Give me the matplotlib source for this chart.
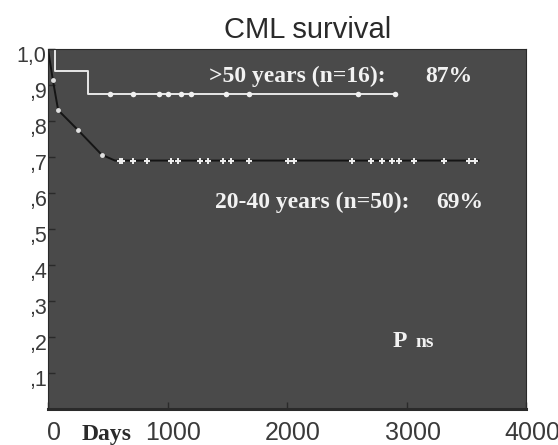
import matplotlib
matplotlib.use("Agg")
import matplotlib.pyplot as plt
import matplotlib.transforms as mtransforms
import numpy as np

# >50 years group (step curve)
old_t = [0, 60, 60, 335, 335, 2905]
old_s = [1.0, 1.0, 0.9375, 0.9375, 0.875, 0.875]
old_cens_t = [520, 715, 925, 1000, 1110, 1195, 1490, 1680, 2590, 2905]
old_cens_s = [0.875] * len(old_cens_t)

# 20-40 years group
young_t = [0, 40, 85, 250, 450, 560, 3600]
young_s = [1.0, 0.915, 0.83, 0.775, 0.706, 0.69, 0.69]
young_ev_t = [40, 85, 250, 450]
young_ev_s = [0.915, 0.83, 0.775, 0.706]
young_cens_t = [605, 622, 715, 830, 1025, 1085, 1275, 1335, 1460, 1530, 1680,
                2010, 2060, 2540, 2705, 2790, 2875, 2935, 3060, 3310, 3520, 3570]
young_cens_s = [0.69] * len(young_cens_t)

xticks = [0, 1000, 2000, 3000, 4000]
xticklabels = ["0", "1000", "2000", "3000", "4000"]
yticks = [0.1, 0.2, 0.3, 0.4, 0.5, 0.6, 0.7, 0.8, 0.9, 1.0]
yticklabels = [",1", ",2", ",3", ",4", ",5", ",6", ",7", ",8", ",9", "1,0"]

sans = ["Liberation Sans", "DejaVu Sans"]
serif = ["Liberation Serif", "DejaVu Serif"]

fig = plt.figure(figsize=(5.58, 4.45), dpi=100)
ax = fig.add_axes([0.086, 0.081, 0.857, 0.809])
ax.set_facecolor("#4a4a4a")

ax.plot(old_t, old_s, color="#e8e8e8", lw=1.4)
ax.plot(old_cens_t, old_cens_s, "o", color="#f0f0f0", ms=4, mec="none")

ax.plot(young_t, young_s, color="#151515", lw=1.4)
ax.plot(young_ev_t, young_ev_s, "o", color="#e0e0e0", ms=3.5, mec="none")
ax.plot(young_cens_t, young_cens_s, "+", color="#f0f0f0", ms=5, mew=1.4)

ax.set_xlim(0, 4000)
ax.set_ylim(0, 1.0)
ax.set_xticks(xticks)
ax.set_xticklabels(xticklabels, fontsize=18, color="#3a3a3a", family=sans)
ax.set_yticks(yticks)
ax.set_yticklabels(yticklabels, fontsize=15.5, color="#3a3a3a", family=sans)
ax.tick_params(axis="both", direction="in", length=5, color="#2a2a2a", width=1)
ax.tick_params(axis="x", pad=9)
ax.tick_params(axis="y", pad=1)
for s in ax.spines.values():
    s.set_color("#2a2a2a")
ax.spines["bottom"].set_linewidth(2.2)

dx = mtransforms.ScaledTranslation(6 / 100, 0, fig.dpi_scale_trans)
for lab in ax.get_xticklabels():
    lab.set_transform(lab.get_transform() + dx)
dy = mtransforms.ScaledTranslation(0, -5 / 100, fig.dpi_scale_trans)
for lab in ax.get_yticklabels():
    lab.set_transform(lab.get_transform() + dy)

tc = "#f2f2f2"
ax.text(1350, 0.908, ">50 years (n=16):", family=serif, fontweight="bold",
        color=tc, fontsize=17, va="baseline")
ax.text(3155, 0.908, "87%", family=serif, fontweight="bold",
        color=tc, fontsize=17, va="baseline")
ax.text(1400, 0.558, "20-40 years (n=50):", family=serif, fontweight="bold",
        color=tc, fontsize=17, va="baseline")
ax.text(3250, 0.558, "69%", family=serif, fontweight="bold",
        color=tc, fontsize=17, va="baseline")
ax.text(2880, 0.172, "P", family=serif, fontweight="bold",
        color=tc, fontsize=17, va="baseline")
ax.text(3070, 0.172, "ns", family=serif, fontweight="bold",
        color=tc, fontsize=14, va="baseline")

fig.text(82 / 558, 1 - 440 / 445, "Days", family=serif, fontweight="bold",
         color="#2a2a2a", fontsize=17, ha="left", va="baseline")
fig.text(308 / 558, 1 - 38 / 445, "CML survival", family=sans, fontsize=21,
         color="#2a2a2a", ha="center", va="baseline")

fig.savefig("out.png", dpi=100)
